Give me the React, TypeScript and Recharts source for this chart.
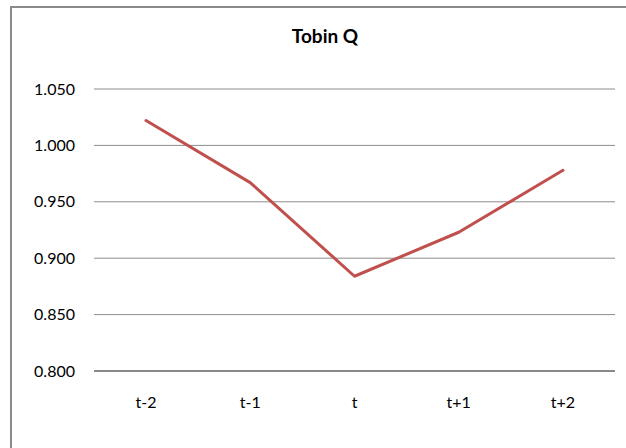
import React from 'react';
import { LineChart, Line, XAxis, YAxis, CartesianGrid, Customized } from 'recharts';

const categories = ['t-2', 't-1', 't', 't+1', 't+2'];
const tobinQ = [1.022, 0.967, 0.884, 0.923, 0.978];
const yTicks = [0.8, 0.85, 0.9, 0.95, 1.0, 1.05];

const data = categories.map((c, i) => ({ name: c, value: tobinQ[i] }));

const FONT = 'Lato, "Noto Sans", sans-serif';

const Title = () => (
  <text x={325} y={43} textAnchor="middle" fontFamily={FONT} fontWeight={700} fontSize={19} fill="#000">
    Tobin Q
  </text>
);

export default function App() {
  return (
    <div style={{ position: 'absolute', left: 0, top: 0, width: 626, height: 448, overflow: 'hidden', background: '#fff' }}>
      <div
        style={{
          position: 'absolute',
          left: 10,
          top: 6,
          width: 700,
          height: 500,
          border: '2px solid #8a8a8a',
          boxSizing: 'border-box',
        }}
      />
      <div style={{ position: 'absolute', left: 0, top: 0 }}>
        <LineChart width={626} height={448} data={data} margin={{ top: 89, right: 11, bottom: 17, left: 0 }}>
          <CartesianGrid horizontal vertical={false} stroke="#8c8c8c" strokeWidth={1} />
          <XAxis
            dataKey="name"
            height={60}
            padding={{ left: 52, right: 52 }}
            axisLine={{ stroke: '#888', strokeWidth: 2 }}
            tickLine={false}
            tickSize={0}
            tickMargin={26}
            tick={{ fill: '#000', fontSize: 16, fontFamily: FONT }}
          />
          <YAxis
            width={94}
            domain={[0.8, 1.05]}
            ticks={yTicks}
            interval={0}
            axisLine={false}
            tickLine={false}
            tickSize={0}
            tickMargin={19}
            tickFormatter={(v: number) => v.toFixed(3)}
            tick={{ fill: '#000', fontSize: 16, fontFamily: FONT }}
          />
          <Line
            type="linear"
            dataKey="value"
            stroke="#C0504D"
            strokeWidth={3}
            dot={false}
            activeDot={false}
            strokeLinecap="round"
            strokeLinejoin="round"
            isAnimationActive={false}
          />
          <Customized component={<Title />} />
        </LineChart>
      </div>
    </div>
  );
}
